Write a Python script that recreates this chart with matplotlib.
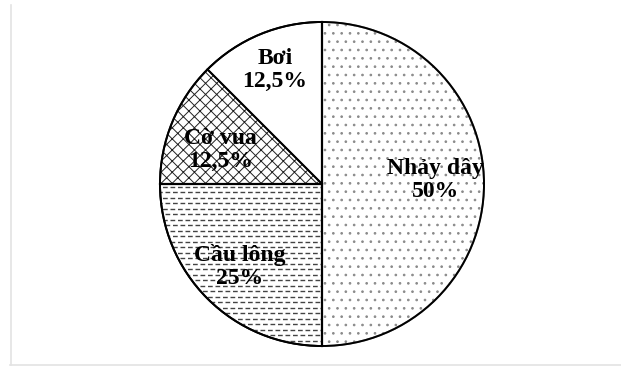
import numpy as np
import matplotlib
matplotlib.use("Agg")
import matplotlib.pyplot as plt
from matplotlib.lines import Line2D

# data (percent)
labels = ["Bơi", "Cờ vua", "Cầu lông", "Nhảy dây"]
values = [12.5, 12.5, 25, 50]
hatches = ["", "xxx", "", ".."]
hatch_cols = ["black", "#222222", "black", "#8a8a8a"]

plt.rcParams['hatch.linewidth'] = 0.7

fig = plt.figure(figsize=(6.21, 3.67), dpi=100)
ax = fig.add_axes([0, 0, 1, 1])

R = 162
cx, cy = 322, 183

wedges, _ = ax.pie(values, startangle=90, counterclock=True, radius=R,
                   center=(cx, cy), frame=True,
                   wedgeprops=dict(linewidth=1.4, facecolor='white'))
for w, h, c in zip(wedges, hatches, hatch_cols):
    w.set_edgecolor(c)   # hatch takes the edge colour
    w.set_hatch(h)
ax.set_xlim(0, 621)
ax.set_ylim(0, 367)
ax.set_aspect('equal')
ax.axis('off')

# dashed horizontal texture for "Cầu lông"
w = wedges[2]
for i, y in enumerate(np.arange(cy - R, cy + 2, 5.5)):
    ln, = ax.plot([cx - R - 10, cx + 5], [y, y], color='#444444', lw=1.0,
                  dash_capstyle='butt')
    ln.set_linestyle((1.8 * (i % 2), (3.4, 2)))
    ln.set_clip_path(w)
# black outlines on top
ax.add_patch(plt.Circle((cx, cy), R, fill=False, edgecolor='black', lw=1.4, zorder=5))
ax.plot([cx, cx], [cy - R, cy + R], color='black', lw=1.6, zorder=5)
ax.plot([cx - R, cx], [cy, cy], color='black', lw=1.6, zorder=5)
a = np.deg2rad(wedges[0].theta2)
ax.plot([cx, cx + R * np.cos(a)], [cy, cy + R * np.sin(a)], color='black', lw=1.2, zorder=5)

# labels inside each slice
rfac = [0.76, 0.66, 0.72, 0.70]
nudge = [0, 4, 0, 2]
for w, lab, v, f, d in zip(wedges, labels, values, rfac, nudge):
    ang = np.deg2rad((w.theta1 + w.theta2) / 2 + d)
    x = cx + f * R * np.cos(ang)
    y = cy + f * R * np.sin(ang)
    pct = f"{v:g}%".replace('.', ',')
    ax.text(x, y, f"{lab}\n{pct}", ha='center', va='center',
            family='Liberation Serif', fontweight='bold', fontsize=17,
            linespacing=1.15, zorder=6)

# faint frame lines of the original picture
fig.add_artist(Line2D([10.5 / 621, 10.5 / 621], [2 / 367, 362 / 367],
                      transform=fig.transFigure, color='#e3e3e3', lw=1.2))
fig.add_artist(Line2D([10 / 621, 1], [2 / 367, 2 / 367],
                      transform=fig.transFigure, color='#e3e3e3', lw=1.2))

fig.savefig("out.png", dpi=100)
